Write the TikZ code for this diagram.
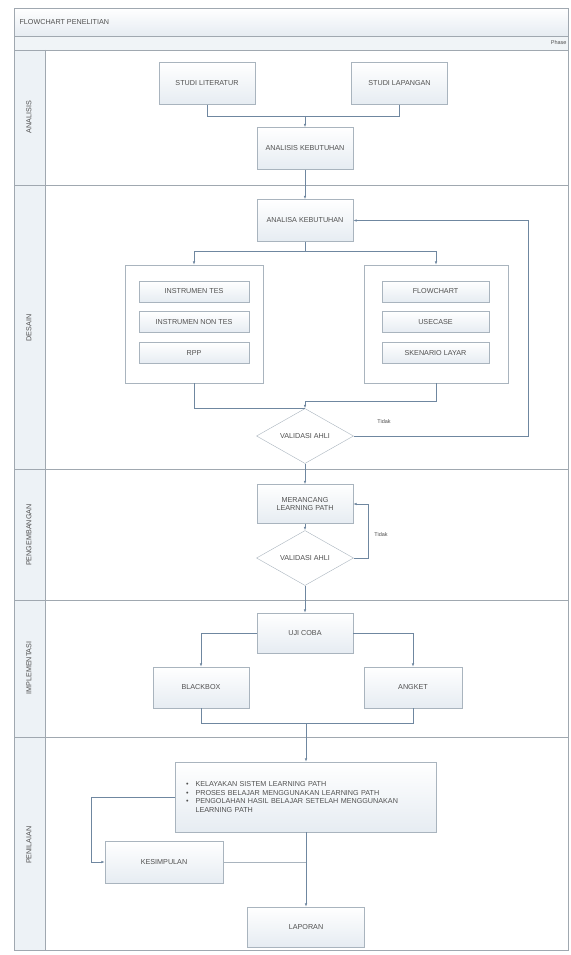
\documentclass[tikz,border=0pt]{standalone}
\usepackage{fontspec}
\setmainfont{Liberation Sans}
\usetikzlibrary{arrows.meta, shapes.geometric, positioning}
\definecolor{linec}{HTML}{6F87A0}
\definecolor{boxc}{HTML}{A9B4BE}
\definecolor{lanec}{HTML}{A0A8B0}
\definecolor{shadec}{HTML}{E6ECF2}
\definecolor{textc}{HTML}{505050}

\begin{document}
\begin{tikzpicture}[x=1pt, y=-1pt, >={Latex[length=3.5pt,width=2.6pt]}, font=\fontsize{7.2}{8.6}\selectfont]
\tikzstyle{lanebox} = [draw=lanec, line width=0.6pt]
\tikzstyle{lanelabel} = [rotate=90, text=textc]
\tikzstyle{proc} = [draw=boxc, top color=white, bottom color=shadec, minimum width=96pt, minimum height=42pt, text=textc, inner sep=2pt]
\tikzstyle{item} = [proc, minimum width=110pt, minimum height=21pt]
\tikzstyle{group} = [draw=boxc, fill=white, minimum height=118pt]
\tikzstyle{check} = [draw=boxc, diamond, fill=white, minimum width=97pt, minimum height=39pt, inner sep=0pt, text=textc]
\tikzstyle{conn} = [draw=linec, line width=0.7pt]
\tikzstyle{arr} = [conn, ->]
\tikzstyle{note} = [font=\fontsize{5.5}{6}\selectfont, text=textc]

\useasboundingbox (0,0) rectangle (570,955);

%draw pool and lanes
\fill[top color=white, bottom color=shadec] (14,8) rectangle (568,36);
\fill[shadec!60] (14,36) rectangle (568,50);
\fill[shadec!70] (14,50) rectangle (45,950);
\draw[lanebox] (14,8) rectangle (568,950);
\draw[lanebox] (14,36) -- (568,36);
\draw[lanebox] (14,50) -- (568,50);
\draw[lanebox] (45,50) -- (45,950);
\foreach \y in {185, 469, 600, 737}
  \draw[lanebox] (14,\y) -- (568,\y);
\node[anchor=west, text=textc] (title) at (16,22) {FLOWCHART PENELITIAN};
\node[anchor=east, note] (phase) at (570,43) {Phase};

\node[lanelabel] (laneA) at (29,117) {ANALISIS};
\node[lanelabel] (laneD) at (29,328) {DESAIN};
\node[lanelabel] (laneP) at (29,535) {PENGEMBANGAN};
\node[lanelabel] (laneI) at (29,668) {IMPLEMENTASI};
\node[lanelabel] (laneN) at (29,845) {PENILAIAN};

%%analisis
\node (lit)[proc] at (207,83.5) {STUDI LITERATUR};
\node (lap)[proc] at (399.5,83.5) {STUDI LAPANGAN};
\node (akA)[proc] at (305,148.5) {ANALISIS KEBUTUHAN};

%%desain
\node (akD)[proc] at (305,220.5) {ANALISA KEBUTUHAN};
\node (contL)[group, minimum width=138pt] at (194,324) {};
\node (contR)[group, minimum width=144pt] at (436,324) {};
\node (tes)[item] at (194,291.5) {INSTRUMEN TES};
\node (nontes)[item] at (194,322) {INSTRUMEN NON TES};
\node (rpp)[item] at (194,353) {RPP};
\node (flow)[item, minimum width=107pt] at (435.5,291.5) {FLOWCHART};
\node (usecase)[item, minimum width=107pt] at (435.5,322) {USECASE};
\node (skenario)[item, minimum width=107pt] at (435.5,353) {SKENARIO LAYAR};
\node (val1)[check] at (305,436) {VALIDASI AHLI};

%%pengembangan
\node (rancang)[proc, minimum height=39pt, align=center] at (305,504) {MERANCANG\\LEARNING PATH};
\node (val2)[check] at (305,558) {VALIDASI AHLI};

%%implementasi
\node (uji)[proc, minimum height=40pt] at (305,633) {UJI COBA};
\node (blackbox)[proc, minimum height=41pt] at (201,687.5) {BLACKBOX};
\node (angket)[proc, minimum width=98pt, minimum height=41pt] at (413,687.5) {ANGKET};

%%penilaian
\node (nilai)[proc, minimum width=261pt, minimum height=70pt, text width=240pt, align=left] at (306,797) {
\textbullet\hspace{7pt}KELAYAKAN SISTEM LEARNING PATH\\
\textbullet\hspace{7pt}PROSES BELAJAR MENGGUNAKAN LEARNING PATH\\
\textbullet\hspace{7pt}PENGOLAHAN HASIL BELAJAR SETELAH MENGGUNAKAN\\
\hphantom{\textbullet}\hspace{7pt}LEARNING PATH};
\node (kesimpulan)[proc, minimum width=118pt] at (164,862) {KESIMPULAN};
\node (laporan)[proc, minimum width=117pt, minimum height=40pt] at (306,927) {LAPORAN};

%connectors
\coordinate (mergeA) at (305,116);
\draw[conn] (lit.south) |- (mergeA);
\draw[conn] (lap.south) |- (mergeA);
\draw[arr] (mergeA) -- (akA.north);
\draw[arr] (akA.south) -- (akD.north);

\coordinate (splitD) at (305,251);
\draw[conn] (akD.south) -- (splitD);
\draw[arr] (splitD) -| (contL.north);
\draw[arr] (splitD) -| (contR.north);
\coordinate (joinL) at (305,408);
\coordinate (joinR) at (305,401);
\draw[conn] (contL.south) |- (joinL);
\draw[conn] (contR.south) |- (joinR);
\draw[arr] (joinR) -- (val1.north);
\coordinate (loopD) at (528,436);
\draw[arr] (val1.east) -- (loopD) |- (akD.east);
\node[note] (tidak1) at (384,422) {Tidak};

\draw[arr] (val1.south) -- (rancang.north);
\draw[arr] (rancang.south) -- (val2.north);
\coordinate (loopP) at (368,558);
\draw[arr] (val2.east) -- (loopP) |- (rancang.east);
\node[note] (tidak2) at (381,535) {Tidak};
\draw[arr] (val2.south) -- (uji.north);

\draw[arr] (uji.west) -| (blackbox.north);
\draw[arr] (uji.east) -| (angket.north);
\coordinate (mergeI) at (306,723);
\draw[conn] (blackbox.south) |- (mergeI);
\draw[conn] (angket.south) |- (mergeI);
\draw[arr] (mergeI) -- (nilai.north);

\coordinate (loopN) at (91,797);
\draw[arr] (nilai.west) -- (loopN) |- (kesimpulan.west);
\draw[draw=boxc, line width=0.7pt] (kesimpulan.east) -- (306,862);
\draw[arr] (nilai.south) -- (laporan.north);

\end{tikzpicture}
\end{document}
